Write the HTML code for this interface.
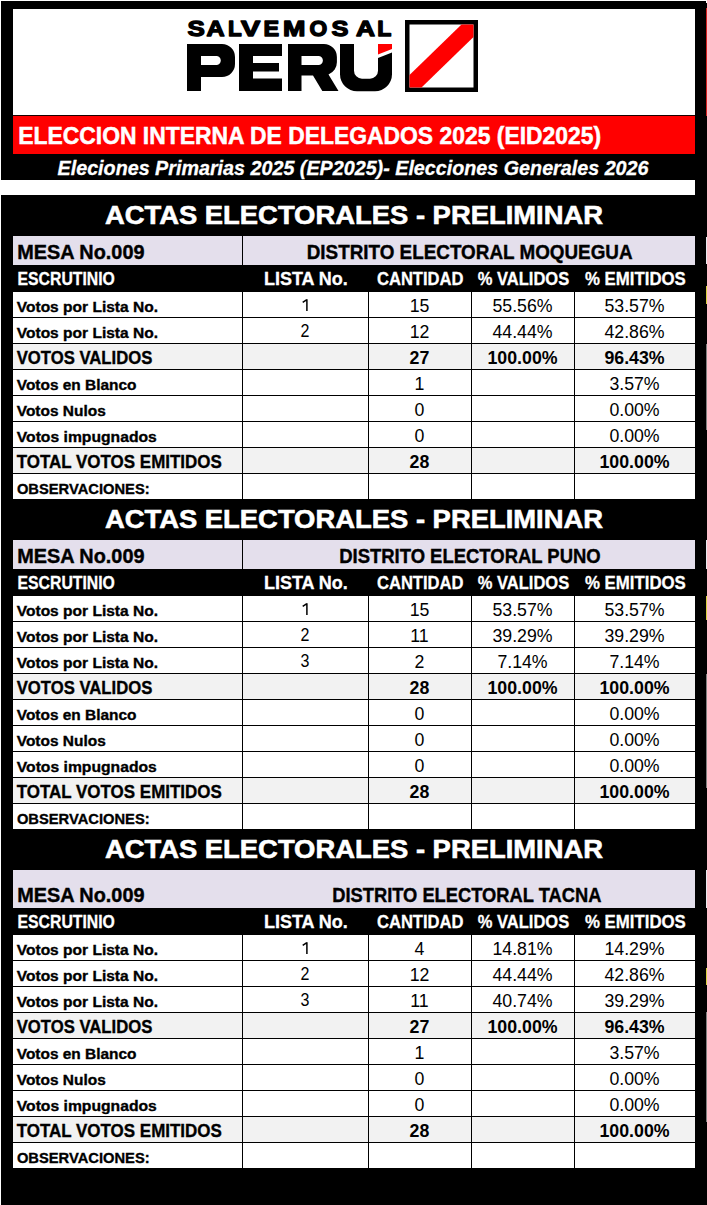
<!DOCTYPE html>
<html><head><meta charset="utf-8"><title>Actas Electorales</title>
<style>html,body{margin:0;padding:0;background:#000;width:707px;height:1205px;overflow:hidden}svg{display:block;font-family:"Liberation Sans",sans-serif}text{font-family:"Liberation Sans",sans-serif}</style>
</head><body>
<svg width="707" height="1205" viewBox="0 0 707 1205"><rect x="0" y="0" width="707" height="1205" fill="#000"/>
<rect x="0" y="0" width="1" height="1205" fill="#fff"/>
<rect x="0" y="0" width="707" height="1" fill="#fff"/>
<rect x="13" y="9" width="682" height="106" fill="#fff"/>
<rect x="13" y="115" width="682" height="1" fill="#1a0000"/>
<rect x="706" y="8" width="1" height="108" fill="#d42020"/>
<rect x="706" y="0" width="1" height="3" fill="#fff"/>
<rect x="706" y="237" width="1" height="27" fill="#e8e8ee"/>
<rect x="706" y="286" width="1" height="18" fill="#d8d040"/>
<rect x="706" y="344" width="1" height="86" fill="#808080"/>
<rect x="706" y="540" width="1" height="29" fill="#e8e8ee"/>
<rect x="706" y="596" width="1" height="24" fill="#d8d040"/>
<rect x="706" y="674" width="1" height="114" fill="#808080"/>
<rect x="706" y="870" width="1" height="38" fill="#e8e8ee"/>
<rect x="706" y="968" width="1" height="17" fill="#d8d040"/>
<rect x="706" y="1012" width="1" height="110" fill="#808080"/>
<rect x="13" y="116" width="682" height="38" fill="#ff0000"/>
<rect x="0" y="180" width="695" height="15" fill="#fff"/>
<rect x="407.25" y="22.25" width="68.5" height="67.5" fill="#fff" stroke="#000" stroke-width="4.5"/>
<polygon points="461.5,24.5 473.5,24.5 473.5,37 421.5,87.5 409.5,87.5 409.5,75" fill="#ff0000"/>
<path fill="#000" fill-rule="evenodd" d="M187,44 H222 A13,13 0 0 1 235,57 V64 A13,13 0 0 1 222,77 H201 V91 H187 Z M201,56 V65 H216.3 A4.5,4.5 0 0 0 216.3,56 Z M239,44 H282 V56 H253 V63 H279 V71.5 H253 V78.5 H282 V91 H239 Z M288,44 H323.9 A13,13 0 0 1 336.9,57 V62 A13,13 0 0 1 328.5,74.5 L338.5,91 H322.3 L313,75.5 H301.5 V91 H288 Z M301.5,56 V65 H318.4 A4.5,4.5 0 0 0 318.4,56 Z M340,44 H354 V70.7 A8,8 0 0 0 362,78.7 H370 A8,8 0 0 0 378,70.7 V58 L392,52.5 V74.3 A17,17 0 0 1 375,91.3 H357 A17,17 0 0 1 340,74.3 Z"/>
<polygon points="378,44 392,44 392,49 378,54.5" fill="#ff0000"/>
<g font-family="Liberation Sans">
<text stroke="#000" stroke-width="1.4" stroke-linejoin="round" x="187.50" y="36.30" font-size="22.82" font-weight="bold" font-style="normal" textLength="17.30" lengthAdjust="spacingAndGlyphs" fill="#000">S</text>
<text stroke="#000" stroke-width="1.4" stroke-linejoin="round" x="206.60" y="36.30" font-size="22.82" font-weight="bold" font-style="normal" textLength="18.10" lengthAdjust="spacingAndGlyphs" fill="#000">A</text>
<text stroke="#000" stroke-width="1.4" stroke-linejoin="round" x="227.90" y="36.30" font-size="22.82" font-weight="bold" font-style="normal" textLength="13.70" lengthAdjust="spacingAndGlyphs" fill="#000">L</text>
<text stroke="#000" stroke-width="1.4" stroke-linejoin="round" x="240.90" y="36.30" font-size="22.82" font-weight="bold" font-style="normal" textLength="19.20" lengthAdjust="spacingAndGlyphs" fill="#000">V</text>
<text stroke="#000" stroke-width="1.4" stroke-linejoin="round" x="263.60" y="36.30" font-size="22.82" font-weight="bold" font-style="normal" textLength="15.60" lengthAdjust="spacingAndGlyphs" fill="#000">E</text>
<text stroke="#000" stroke-width="1.4" stroke-linejoin="round" x="283.10" y="36.30" font-size="22.82" font-weight="bold" font-style="normal" textLength="22.40" lengthAdjust="spacingAndGlyphs" fill="#000">M</text>
<text stroke="#000" stroke-width="1.4" stroke-linejoin="round" x="309.40" y="36.30" font-size="22.82" font-weight="bold" font-style="normal" textLength="17.70" lengthAdjust="spacingAndGlyphs" fill="#000">O</text>
<text stroke="#000" stroke-width="1.4" stroke-linejoin="round" x="331.50" y="36.30" font-size="22.82" font-weight="bold" font-style="normal" textLength="16.90" lengthAdjust="spacingAndGlyphs" fill="#000">S</text>
<text stroke="#000" stroke-width="1.4" stroke-linejoin="round" x="356.00" y="36.30" font-size="22.82" font-weight="bold" font-style="normal" textLength="19.00" lengthAdjust="spacingAndGlyphs" fill="#000">A</text>
<text stroke="#000" stroke-width="1.4" stroke-linejoin="round" x="377.20" y="36.30" font-size="22.82" font-weight="bold" font-style="normal" textLength="14.10" lengthAdjust="spacingAndGlyphs" fill="#000">L</text>
<text x="18.25" y="143.85" font-size="24.27" font-weight="bold" font-style="normal" textLength="582.80" lengthAdjust="spacingAndGlyphs" fill="#fff" stroke="#fff" stroke-width="0.5">ELECCION INTERNA DE DELEGADOS 2025 (EID2025)</text>
<text x="57.55" y="174.85" font-size="20.49" font-weight="bold" font-style="italic" textLength="590.98" lengthAdjust="spacingAndGlyphs" fill="#fff" stroke="#fff" stroke-width="0.3">Eleciones Primarias 2025 (EP2025)- Elecciones Generales 2026</text>
<text x="104.90" y="224.30" font-size="26.45" font-weight="bold" font-style="normal" textLength="498.19" lengthAdjust="spacingAndGlyphs" fill="#fff" stroke="#fff" stroke-width="0.6">ACTAS ELECTORALES - PRELIMINAR</text>
<rect x="13" y="236" width="682" height="29" fill="#e4dfec"/>
<rect x="242" y="236" width="1" height="29" fill="#000"/>
<text x="17.20" y="258.70" font-size="20.20" font-weight="bold" font-style="normal" textLength="127.30" lengthAdjust="spacingAndGlyphs" fill="#000" stroke="#000" stroke-width="0.4">MESA No.009</text>
<text x="306.70" y="258.70" font-size="20.49" font-weight="bold" font-style="normal" textLength="325.90" lengthAdjust="spacingAndGlyphs" fill="#000" stroke="#000" stroke-width="0.4">DISTRITO ELECTORAL MOQUEGUA</text>
<text x="17.55" y="285.35" font-size="17.44" font-weight="bold" font-style="normal" textLength="97.30" lengthAdjust="spacingAndGlyphs" fill="#fff" stroke="#fff" stroke-width="0.3">ESCRUTINIO</text>
<text x="263.95" y="284.85" font-size="17.59" font-weight="bold" font-style="normal" textLength="83.90" lengthAdjust="spacingAndGlyphs" fill="#fff" stroke="#fff" stroke-width="0.3">LISTA No.</text>
<text x="376.95" y="285.35" font-size="17.44" font-weight="bold" font-style="normal" textLength="86.60" lengthAdjust="spacingAndGlyphs" fill="#fff" stroke="#fff" stroke-width="0.3">CANTIDAD</text>
<text x="477.75" y="285.35" font-size="17.44" font-weight="bold" font-style="normal" textLength="91.39" lengthAdjust="spacingAndGlyphs" fill="#fff" stroke="#fff" stroke-width="0.3">% VALIDOS</text>
<text x="584.95" y="285.35" font-size="17.44" font-weight="bold" font-style="normal" textLength="100.89" lengthAdjust="spacingAndGlyphs" fill="#fff" stroke="#fff" stroke-width="0.3">% EMITIDOS</text>
<rect x="13" y="292" width="682" height="25" fill="#fff"/>
<rect x="13" y="317" width="682" height="1" fill="#000"/>
<rect x="242" y="292" width="1" height="25" fill="#000"/>
<rect x="368" y="292" width="1" height="25" fill="#000"/>
<rect x="471" y="292" width="1" height="25" fill="#000"/>
<rect x="574" y="292" width="1" height="25" fill="#000"/>
<text x="16.78" y="311.52" font-size="14.75" font-weight="bold" font-style="normal" textLength="141.25" lengthAdjust="spacingAndGlyphs" fill="#000" stroke="#000" stroke-width="0.35">Votos por Lista No.</text>
<path d="M306.9,299.2 V311.0 M306.9,299.6 L302.7,302.4" stroke="#000" stroke-width="1.5" fill="none"/>
<text x="409.65" y="311.80" font-size="18.46" font-weight="normal" font-style="normal" textLength="19.71" lengthAdjust="spacingAndGlyphs" fill="#000">15</text>
<text x="492.45" y="311.80" font-size="18.46" font-weight="normal" font-style="normal" textLength="60.10" lengthAdjust="spacingAndGlyphs" fill="#000">55.56%</text>
<text x="604.45" y="311.80" font-size="18.46" font-weight="normal" font-style="normal" textLength="60.10" lengthAdjust="spacingAndGlyphs" fill="#000">53.57%</text>
<rect x="13" y="318" width="682" height="25" fill="#fff"/>
<rect x="13" y="343" width="682" height="1" fill="#000"/>
<rect x="242" y="318" width="1" height="25" fill="#000"/>
<rect x="368" y="318" width="1" height="25" fill="#000"/>
<rect x="471" y="318" width="1" height="25" fill="#000"/>
<rect x="574" y="318" width="1" height="25" fill="#000"/>
<text x="16.78" y="337.52" font-size="14.75" font-weight="bold" font-style="normal" textLength="141.25" lengthAdjust="spacingAndGlyphs" fill="#000" stroke="#000" stroke-width="0.35">Votos por Lista No.</text>
<text x="300.54" y="337.00" font-size="17.44" font-weight="normal" font-style="normal" textLength="8.92" lengthAdjust="spacingAndGlyphs" fill="#000">2</text>
<text x="409.65" y="337.80" font-size="18.46" font-weight="normal" font-style="normal" textLength="19.71" lengthAdjust="spacingAndGlyphs" fill="#000">12</text>
<text x="492.45" y="337.80" font-size="18.46" font-weight="normal" font-style="normal" textLength="60.10" lengthAdjust="spacingAndGlyphs" fill="#000">44.44%</text>
<text x="604.45" y="337.80" font-size="18.46" font-weight="normal" font-style="normal" textLength="60.10" lengthAdjust="spacingAndGlyphs" fill="#000">42.86%</text>
<rect x="13" y="344" width="682" height="25" fill="#f2f2f2"/>
<rect x="13" y="369" width="682" height="1" fill="#000"/>
<rect x="242" y="344" width="1" height="25" fill="#000"/>
<rect x="368" y="344" width="1" height="25" fill="#000"/>
<rect x="471" y="344" width="1" height="25" fill="#000"/>
<rect x="574" y="344" width="1" height="25" fill="#000"/>
<text x="16.68" y="364.02" font-size="17.95" font-weight="bold" font-style="normal" textLength="135.65" lengthAdjust="spacingAndGlyphs" fill="#000" stroke="#000" stroke-width="0.35">VOTOS VALIDOS</text>
<text x="409.62" y="363.80" font-size="18.90" font-weight="bold" font-style="normal" textLength="19.76" lengthAdjust="spacingAndGlyphs" fill="#000">27</text>
<text x="487.44" y="363.80" font-size="18.90" font-weight="bold" font-style="normal" textLength="70.12" lengthAdjust="spacingAndGlyphs" fill="#000">100.00%</text>
<text x="604.38" y="363.80" font-size="18.90" font-weight="bold" font-style="normal" textLength="60.24" lengthAdjust="spacingAndGlyphs" fill="#000">96.43%</text>
<rect x="13" y="370" width="682" height="25" fill="#fff"/>
<rect x="13" y="395" width="682" height="1" fill="#000"/>
<rect x="242" y="370" width="1" height="25" fill="#000"/>
<rect x="368" y="370" width="1" height="25" fill="#000"/>
<rect x="471" y="370" width="1" height="25" fill="#000"/>
<rect x="574" y="370" width="1" height="25" fill="#000"/>
<text x="16.78" y="389.52" font-size="14.75" font-weight="bold" font-style="normal" textLength="119.75" lengthAdjust="spacingAndGlyphs" fill="#000" stroke="#000" stroke-width="0.35">Votos en Blanco</text>
<text x="414.57" y="389.80" font-size="18.46" font-weight="normal" font-style="normal" textLength="9.86" lengthAdjust="spacingAndGlyphs" fill="#000">1</text>
<text x="609.38" y="389.80" font-size="18.46" font-weight="normal" font-style="normal" textLength="50.25" lengthAdjust="spacingAndGlyphs" fill="#000">3.57%</text>
<rect x="13" y="396" width="682" height="25" fill="#fff"/>
<rect x="13" y="421" width="682" height="1" fill="#000"/>
<rect x="242" y="396" width="1" height="25" fill="#000"/>
<rect x="368" y="396" width="1" height="25" fill="#000"/>
<rect x="471" y="396" width="1" height="25" fill="#000"/>
<rect x="574" y="396" width="1" height="25" fill="#000"/>
<text x="16.78" y="415.52" font-size="14.75" font-weight="bold" font-style="normal" textLength="89.05" lengthAdjust="spacingAndGlyphs" fill="#000" stroke="#000" stroke-width="0.35">Votos Nulos</text>
<text x="414.57" y="415.80" font-size="18.46" font-weight="normal" font-style="normal" textLength="9.86" lengthAdjust="spacingAndGlyphs" fill="#000">0</text>
<text x="609.38" y="415.80" font-size="18.46" font-weight="normal" font-style="normal" textLength="50.25" lengthAdjust="spacingAndGlyphs" fill="#000">0.00%</text>
<rect x="13" y="422" width="682" height="25" fill="#fff"/>
<rect x="13" y="447" width="682" height="1" fill="#000"/>
<rect x="242" y="422" width="1" height="25" fill="#000"/>
<rect x="368" y="422" width="1" height="25" fill="#000"/>
<rect x="471" y="422" width="1" height="25" fill="#000"/>
<rect x="574" y="422" width="1" height="25" fill="#000"/>
<text x="16.78" y="441.52" font-size="14.75" font-weight="bold" font-style="normal" textLength="140.05" lengthAdjust="spacingAndGlyphs" fill="#000" stroke="#000" stroke-width="0.35">Votos impugnados</text>
<text x="414.57" y="441.80" font-size="18.46" font-weight="normal" font-style="normal" textLength="9.86" lengthAdjust="spacingAndGlyphs" fill="#000">0</text>
<text x="609.38" y="441.80" font-size="18.46" font-weight="normal" font-style="normal" textLength="50.25" lengthAdjust="spacingAndGlyphs" fill="#000">0.00%</text>
<rect x="13" y="448" width="682" height="25" fill="#f2f2f2"/>
<rect x="13" y="473" width="682" height="1" fill="#000"/>
<rect x="242" y="448" width="1" height="25" fill="#000"/>
<rect x="368" y="448" width="1" height="25" fill="#000"/>
<rect x="471" y="448" width="1" height="25" fill="#000"/>
<rect x="574" y="448" width="1" height="25" fill="#000"/>
<text x="16.68" y="468.02" font-size="17.95" font-weight="bold" font-style="normal" textLength="205.15" lengthAdjust="spacingAndGlyphs" fill="#000" stroke="#000" stroke-width="0.35">TOTAL VOTOS EMITIDOS</text>
<text x="409.62" y="467.80" font-size="18.90" font-weight="bold" font-style="normal" textLength="19.76" lengthAdjust="spacingAndGlyphs" fill="#000">28</text>
<text x="599.44" y="467.80" font-size="18.90" font-weight="bold" font-style="normal" textLength="70.12" lengthAdjust="spacingAndGlyphs" fill="#000">100.00%</text>
<rect x="13" y="474" width="682" height="25" fill="#fff"/>
<rect x="242" y="474" width="1" height="25" fill="#000"/>
<rect x="368" y="474" width="1" height="25" fill="#000"/>
<rect x="471" y="474" width="1" height="25" fill="#000"/>
<rect x="574" y="474" width="1" height="25" fill="#000"/>
<text x="16.88" y="493.82" font-size="15.19" font-weight="bold" font-style="normal" textLength="132.75" lengthAdjust="spacingAndGlyphs" fill="#000" stroke="#000" stroke-width="0.35">OBSERVACIONES:</text>
<text x="104.90" y="528.30" font-size="26.45" font-weight="bold" font-style="normal" textLength="498.19" lengthAdjust="spacingAndGlyphs" fill="#fff" stroke="#fff" stroke-width="0.6">ACTAS ELECTORALES - PRELIMINAR</text>
<rect x="13" y="540" width="682" height="29" fill="#e4dfec"/>
<rect x="242" y="540" width="1" height="29" fill="#000"/>
<text x="17.20" y="562.70" font-size="20.20" font-weight="bold" font-style="normal" textLength="127.30" lengthAdjust="spacingAndGlyphs" fill="#000" stroke="#000" stroke-width="0.4">MESA No.009</text>
<text x="339.20" y="562.70" font-size="20.49" font-weight="bold" font-style="normal" textLength="261.50" lengthAdjust="spacingAndGlyphs" fill="#000" stroke="#000" stroke-width="0.4">DISTRITO ELECTORAL PUNO</text>
<text x="17.55" y="589.35" font-size="17.44" font-weight="bold" font-style="normal" textLength="97.30" lengthAdjust="spacingAndGlyphs" fill="#fff" stroke="#fff" stroke-width="0.3">ESCRUTINIO</text>
<text x="263.95" y="588.85" font-size="17.59" font-weight="bold" font-style="normal" textLength="83.90" lengthAdjust="spacingAndGlyphs" fill="#fff" stroke="#fff" stroke-width="0.3">LISTA No.</text>
<text x="376.95" y="589.35" font-size="17.44" font-weight="bold" font-style="normal" textLength="86.60" lengthAdjust="spacingAndGlyphs" fill="#fff" stroke="#fff" stroke-width="0.3">CANTIDAD</text>
<text x="477.75" y="589.35" font-size="17.44" font-weight="bold" font-style="normal" textLength="91.39" lengthAdjust="spacingAndGlyphs" fill="#fff" stroke="#fff" stroke-width="0.3">% VALIDOS</text>
<text x="584.95" y="589.35" font-size="17.44" font-weight="bold" font-style="normal" textLength="100.89" lengthAdjust="spacingAndGlyphs" fill="#fff" stroke="#fff" stroke-width="0.3">% EMITIDOS</text>
<rect x="13" y="596" width="682" height="25" fill="#fff"/>
<rect x="13" y="621" width="682" height="1" fill="#000"/>
<rect x="242" y="596" width="1" height="25" fill="#000"/>
<rect x="368" y="596" width="1" height="25" fill="#000"/>
<rect x="471" y="596" width="1" height="25" fill="#000"/>
<rect x="574" y="596" width="1" height="25" fill="#000"/>
<text x="16.78" y="615.52" font-size="14.75" font-weight="bold" font-style="normal" textLength="141.25" lengthAdjust="spacingAndGlyphs" fill="#000" stroke="#000" stroke-width="0.35">Votos por Lista No.</text>
<path d="M306.9,603.2 V615.0 M306.9,603.6 L302.7,606.4" stroke="#000" stroke-width="1.5" fill="none"/>
<text x="409.65" y="615.80" font-size="18.46" font-weight="normal" font-style="normal" textLength="19.71" lengthAdjust="spacingAndGlyphs" fill="#000">15</text>
<text x="492.45" y="615.80" font-size="18.46" font-weight="normal" font-style="normal" textLength="60.10" lengthAdjust="spacingAndGlyphs" fill="#000">53.57%</text>
<text x="604.45" y="615.80" font-size="18.46" font-weight="normal" font-style="normal" textLength="60.10" lengthAdjust="spacingAndGlyphs" fill="#000">53.57%</text>
<rect x="13" y="622" width="682" height="25" fill="#fff"/>
<rect x="13" y="647" width="682" height="1" fill="#000"/>
<rect x="242" y="622" width="1" height="25" fill="#000"/>
<rect x="368" y="622" width="1" height="25" fill="#000"/>
<rect x="471" y="622" width="1" height="25" fill="#000"/>
<rect x="574" y="622" width="1" height="25" fill="#000"/>
<text x="16.78" y="641.52" font-size="14.75" font-weight="bold" font-style="normal" textLength="141.25" lengthAdjust="spacingAndGlyphs" fill="#000" stroke="#000" stroke-width="0.35">Votos por Lista No.</text>
<text x="300.54" y="641.00" font-size="17.44" font-weight="normal" font-style="normal" textLength="8.92" lengthAdjust="spacingAndGlyphs" fill="#000">2</text>
<text x="410.30" y="641.80" font-size="18.46" font-weight="normal" font-style="normal" textLength="18.40" lengthAdjust="spacingAndGlyphs" fill="#000">11</text>
<text x="492.45" y="641.80" font-size="18.46" font-weight="normal" font-style="normal" textLength="60.10" lengthAdjust="spacingAndGlyphs" fill="#000">39.29%</text>
<text x="604.45" y="641.80" font-size="18.46" font-weight="normal" font-style="normal" textLength="60.10" lengthAdjust="spacingAndGlyphs" fill="#000">39.29%</text>
<rect x="13" y="648" width="682" height="25" fill="#fff"/>
<rect x="13" y="673" width="682" height="1" fill="#000"/>
<rect x="242" y="648" width="1" height="25" fill="#000"/>
<rect x="368" y="648" width="1" height="25" fill="#000"/>
<rect x="471" y="648" width="1" height="25" fill="#000"/>
<rect x="574" y="648" width="1" height="25" fill="#000"/>
<text x="16.78" y="667.52" font-size="14.75" font-weight="bold" font-style="normal" textLength="141.25" lengthAdjust="spacingAndGlyphs" fill="#000" stroke="#000" stroke-width="0.35">Votos por Lista No.</text>
<text x="300.54" y="667.00" font-size="17.44" font-weight="normal" font-style="normal" textLength="8.92" lengthAdjust="spacingAndGlyphs" fill="#000">3</text>
<text x="414.57" y="667.80" font-size="18.46" font-weight="normal" font-style="normal" textLength="9.86" lengthAdjust="spacingAndGlyphs" fill="#000">2</text>
<text x="497.38" y="667.80" font-size="18.46" font-weight="normal" font-style="normal" textLength="50.25" lengthAdjust="spacingAndGlyphs" fill="#000">7.14%</text>
<text x="609.38" y="667.80" font-size="18.46" font-weight="normal" font-style="normal" textLength="50.25" lengthAdjust="spacingAndGlyphs" fill="#000">7.14%</text>
<rect x="13" y="674" width="682" height="25" fill="#f2f2f2"/>
<rect x="13" y="699" width="682" height="1" fill="#000"/>
<rect x="242" y="674" width="1" height="25" fill="#000"/>
<rect x="368" y="674" width="1" height="25" fill="#000"/>
<rect x="471" y="674" width="1" height="25" fill="#000"/>
<rect x="574" y="674" width="1" height="25" fill="#000"/>
<text x="16.68" y="694.02" font-size="17.95" font-weight="bold" font-style="normal" textLength="135.65" lengthAdjust="spacingAndGlyphs" fill="#000" stroke="#000" stroke-width="0.35">VOTOS VALIDOS</text>
<text x="409.62" y="693.80" font-size="18.90" font-weight="bold" font-style="normal" textLength="19.76" lengthAdjust="spacingAndGlyphs" fill="#000">28</text>
<text x="487.44" y="693.80" font-size="18.90" font-weight="bold" font-style="normal" textLength="70.12" lengthAdjust="spacingAndGlyphs" fill="#000">100.00%</text>
<text x="599.44" y="693.80" font-size="18.90" font-weight="bold" font-style="normal" textLength="70.12" lengthAdjust="spacingAndGlyphs" fill="#000">100.00%</text>
<rect x="13" y="700" width="682" height="25" fill="#fff"/>
<rect x="13" y="725" width="682" height="1" fill="#000"/>
<rect x="242" y="700" width="1" height="25" fill="#000"/>
<rect x="368" y="700" width="1" height="25" fill="#000"/>
<rect x="471" y="700" width="1" height="25" fill="#000"/>
<rect x="574" y="700" width="1" height="25" fill="#000"/>
<text x="16.78" y="719.52" font-size="14.75" font-weight="bold" font-style="normal" textLength="119.75" lengthAdjust="spacingAndGlyphs" fill="#000" stroke="#000" stroke-width="0.35">Votos en Blanco</text>
<text x="414.57" y="719.80" font-size="18.46" font-weight="normal" font-style="normal" textLength="9.86" lengthAdjust="spacingAndGlyphs" fill="#000">0</text>
<text x="609.38" y="719.80" font-size="18.46" font-weight="normal" font-style="normal" textLength="50.25" lengthAdjust="spacingAndGlyphs" fill="#000">0.00%</text>
<rect x="13" y="726" width="682" height="25" fill="#fff"/>
<rect x="13" y="751" width="682" height="1" fill="#000"/>
<rect x="242" y="726" width="1" height="25" fill="#000"/>
<rect x="368" y="726" width="1" height="25" fill="#000"/>
<rect x="471" y="726" width="1" height="25" fill="#000"/>
<rect x="574" y="726" width="1" height="25" fill="#000"/>
<text x="16.78" y="745.52" font-size="14.75" font-weight="bold" font-style="normal" textLength="89.05" lengthAdjust="spacingAndGlyphs" fill="#000" stroke="#000" stroke-width="0.35">Votos Nulos</text>
<text x="414.57" y="745.80" font-size="18.46" font-weight="normal" font-style="normal" textLength="9.86" lengthAdjust="spacingAndGlyphs" fill="#000">0</text>
<text x="609.38" y="745.80" font-size="18.46" font-weight="normal" font-style="normal" textLength="50.25" lengthAdjust="spacingAndGlyphs" fill="#000">0.00%</text>
<rect x="13" y="752" width="682" height="25" fill="#fff"/>
<rect x="13" y="777" width="682" height="1" fill="#000"/>
<rect x="242" y="752" width="1" height="25" fill="#000"/>
<rect x="368" y="752" width="1" height="25" fill="#000"/>
<rect x="471" y="752" width="1" height="25" fill="#000"/>
<rect x="574" y="752" width="1" height="25" fill="#000"/>
<text x="16.78" y="771.52" font-size="14.75" font-weight="bold" font-style="normal" textLength="140.05" lengthAdjust="spacingAndGlyphs" fill="#000" stroke="#000" stroke-width="0.35">Votos impugnados</text>
<text x="414.57" y="771.80" font-size="18.46" font-weight="normal" font-style="normal" textLength="9.86" lengthAdjust="spacingAndGlyphs" fill="#000">0</text>
<text x="609.38" y="771.80" font-size="18.46" font-weight="normal" font-style="normal" textLength="50.25" lengthAdjust="spacingAndGlyphs" fill="#000">0.00%</text>
<rect x="13" y="778" width="682" height="25" fill="#f2f2f2"/>
<rect x="13" y="803" width="682" height="1" fill="#000"/>
<rect x="242" y="778" width="1" height="25" fill="#000"/>
<rect x="368" y="778" width="1" height="25" fill="#000"/>
<rect x="471" y="778" width="1" height="25" fill="#000"/>
<rect x="574" y="778" width="1" height="25" fill="#000"/>
<text x="16.68" y="798.02" font-size="17.95" font-weight="bold" font-style="normal" textLength="205.15" lengthAdjust="spacingAndGlyphs" fill="#000" stroke="#000" stroke-width="0.35">TOTAL VOTOS EMITIDOS</text>
<text x="409.62" y="797.80" font-size="18.90" font-weight="bold" font-style="normal" textLength="19.76" lengthAdjust="spacingAndGlyphs" fill="#000">28</text>
<text x="599.44" y="797.80" font-size="18.90" font-weight="bold" font-style="normal" textLength="70.12" lengthAdjust="spacingAndGlyphs" fill="#000">100.00%</text>
<rect x="13" y="804" width="682" height="25" fill="#fff"/>
<rect x="242" y="804" width="1" height="25" fill="#000"/>
<rect x="368" y="804" width="1" height="25" fill="#000"/>
<rect x="471" y="804" width="1" height="25" fill="#000"/>
<rect x="574" y="804" width="1" height="25" fill="#000"/>
<text x="16.88" y="823.83" font-size="15.19" font-weight="bold" font-style="normal" textLength="132.75" lengthAdjust="spacingAndGlyphs" fill="#000" stroke="#000" stroke-width="0.35">OBSERVACIONES:</text>
<text x="104.90" y="858.30" font-size="26.45" font-weight="bold" font-style="normal" textLength="498.19" lengthAdjust="spacingAndGlyphs" fill="#fff" stroke="#fff" stroke-width="0.6">ACTAS ELECTORALES - PRELIMINAR</text>
<rect x="13" y="870" width="682" height="38" fill="#e4dfec"/>
<text x="17.20" y="901.70" font-size="20.20" font-weight="bold" font-style="normal" textLength="127.30" lengthAdjust="spacingAndGlyphs" fill="#000" stroke="#000" stroke-width="0.4">MESA No.009</text>
<text x="332.20" y="901.70" font-size="20.49" font-weight="bold" font-style="normal" textLength="269.30" lengthAdjust="spacingAndGlyphs" fill="#000" stroke="#000" stroke-width="0.4">DISTRITO ELECTORAL TACNA</text>
<text x="17.55" y="928.35" font-size="17.44" font-weight="bold" font-style="normal" textLength="97.30" lengthAdjust="spacingAndGlyphs" fill="#fff" stroke="#fff" stroke-width="0.3">ESCRUTINIO</text>
<text x="263.95" y="927.85" font-size="17.59" font-weight="bold" font-style="normal" textLength="83.90" lengthAdjust="spacingAndGlyphs" fill="#fff" stroke="#fff" stroke-width="0.3">LISTA No.</text>
<text x="376.95" y="928.35" font-size="17.44" font-weight="bold" font-style="normal" textLength="86.60" lengthAdjust="spacingAndGlyphs" fill="#fff" stroke="#fff" stroke-width="0.3">CANTIDAD</text>
<text x="477.75" y="928.35" font-size="17.44" font-weight="bold" font-style="normal" textLength="91.39" lengthAdjust="spacingAndGlyphs" fill="#fff" stroke="#fff" stroke-width="0.3">% VALIDOS</text>
<text x="584.95" y="928.35" font-size="17.44" font-weight="bold" font-style="normal" textLength="100.89" lengthAdjust="spacingAndGlyphs" fill="#fff" stroke="#fff" stroke-width="0.3">% EMITIDOS</text>
<rect x="13" y="935" width="682" height="25" fill="#fff"/>
<rect x="13" y="960" width="682" height="1" fill="#000"/>
<rect x="242" y="935" width="1" height="25" fill="#000"/>
<rect x="368" y="935" width="1" height="25" fill="#000"/>
<rect x="471" y="935" width="1" height="25" fill="#000"/>
<rect x="574" y="935" width="1" height="25" fill="#000"/>
<text x="16.78" y="954.52" font-size="14.75" font-weight="bold" font-style="normal" textLength="141.25" lengthAdjust="spacingAndGlyphs" fill="#000" stroke="#000" stroke-width="0.35">Votos por Lista No.</text>
<path d="M306.9,942.2 V954.0 M306.9,942.6 L302.7,945.4" stroke="#000" stroke-width="1.5" fill="none"/>
<text x="414.57" y="954.80" font-size="18.46" font-weight="normal" font-style="normal" textLength="9.86" lengthAdjust="spacingAndGlyphs" fill="#000">4</text>
<text x="492.45" y="954.80" font-size="18.46" font-weight="normal" font-style="normal" textLength="60.10" lengthAdjust="spacingAndGlyphs" fill="#000">14.81%</text>
<text x="604.45" y="954.80" font-size="18.46" font-weight="normal" font-style="normal" textLength="60.10" lengthAdjust="spacingAndGlyphs" fill="#000">14.29%</text>
<rect x="13" y="961" width="682" height="25" fill="#fff"/>
<rect x="13" y="986" width="682" height="1" fill="#000"/>
<rect x="242" y="961" width="1" height="25" fill="#000"/>
<rect x="368" y="961" width="1" height="25" fill="#000"/>
<rect x="471" y="961" width="1" height="25" fill="#000"/>
<rect x="574" y="961" width="1" height="25" fill="#000"/>
<text x="16.78" y="980.52" font-size="14.75" font-weight="bold" font-style="normal" textLength="141.25" lengthAdjust="spacingAndGlyphs" fill="#000" stroke="#000" stroke-width="0.35">Votos por Lista No.</text>
<text x="300.54" y="980.00" font-size="17.44" font-weight="normal" font-style="normal" textLength="8.92" lengthAdjust="spacingAndGlyphs" fill="#000">2</text>
<text x="409.65" y="980.80" font-size="18.46" font-weight="normal" font-style="normal" textLength="19.71" lengthAdjust="spacingAndGlyphs" fill="#000">12</text>
<text x="492.45" y="980.80" font-size="18.46" font-weight="normal" font-style="normal" textLength="60.10" lengthAdjust="spacingAndGlyphs" fill="#000">44.44%</text>
<text x="604.45" y="980.80" font-size="18.46" font-weight="normal" font-style="normal" textLength="60.10" lengthAdjust="spacingAndGlyphs" fill="#000">42.86%</text>
<rect x="13" y="987" width="682" height="25" fill="#fff"/>
<rect x="13" y="1012" width="682" height="1" fill="#000"/>
<rect x="242" y="987" width="1" height="25" fill="#000"/>
<rect x="368" y="987" width="1" height="25" fill="#000"/>
<rect x="471" y="987" width="1" height="25" fill="#000"/>
<rect x="574" y="987" width="1" height="25" fill="#000"/>
<text x="16.78" y="1006.52" font-size="14.75" font-weight="bold" font-style="normal" textLength="141.25" lengthAdjust="spacingAndGlyphs" fill="#000" stroke="#000" stroke-width="0.35">Votos por Lista No.</text>
<text x="300.54" y="1006.00" font-size="17.44" font-weight="normal" font-style="normal" textLength="8.92" lengthAdjust="spacingAndGlyphs" fill="#000">3</text>
<text x="410.30" y="1006.80" font-size="18.46" font-weight="normal" font-style="normal" textLength="18.40" lengthAdjust="spacingAndGlyphs" fill="#000">11</text>
<text x="492.45" y="1006.80" font-size="18.46" font-weight="normal" font-style="normal" textLength="60.10" lengthAdjust="spacingAndGlyphs" fill="#000">40.74%</text>
<text x="604.45" y="1006.80" font-size="18.46" font-weight="normal" font-style="normal" textLength="60.10" lengthAdjust="spacingAndGlyphs" fill="#000">39.29%</text>
<rect x="13" y="1013" width="682" height="25" fill="#f2f2f2"/>
<rect x="13" y="1038" width="682" height="1" fill="#000"/>
<rect x="242" y="1013" width="1" height="25" fill="#000"/>
<rect x="368" y="1013" width="1" height="25" fill="#000"/>
<rect x="471" y="1013" width="1" height="25" fill="#000"/>
<rect x="574" y="1013" width="1" height="25" fill="#000"/>
<text x="16.68" y="1033.03" font-size="17.95" font-weight="bold" font-style="normal" textLength="135.65" lengthAdjust="spacingAndGlyphs" fill="#000" stroke="#000" stroke-width="0.35">VOTOS VALIDOS</text>
<text x="409.62" y="1032.80" font-size="18.90" font-weight="bold" font-style="normal" textLength="19.76" lengthAdjust="spacingAndGlyphs" fill="#000">27</text>
<text x="487.44" y="1032.80" font-size="18.90" font-weight="bold" font-style="normal" textLength="70.12" lengthAdjust="spacingAndGlyphs" fill="#000">100.00%</text>
<text x="604.38" y="1032.80" font-size="18.90" font-weight="bold" font-style="normal" textLength="60.24" lengthAdjust="spacingAndGlyphs" fill="#000">96.43%</text>
<rect x="13" y="1039" width="682" height="25" fill="#fff"/>
<rect x="13" y="1064" width="682" height="1" fill="#000"/>
<rect x="242" y="1039" width="1" height="25" fill="#000"/>
<rect x="368" y="1039" width="1" height="25" fill="#000"/>
<rect x="471" y="1039" width="1" height="25" fill="#000"/>
<rect x="574" y="1039" width="1" height="25" fill="#000"/>
<text x="16.78" y="1058.53" font-size="14.75" font-weight="bold" font-style="normal" textLength="119.75" lengthAdjust="spacingAndGlyphs" fill="#000" stroke="#000" stroke-width="0.35">Votos en Blanco</text>
<text x="414.57" y="1058.80" font-size="18.46" font-weight="normal" font-style="normal" textLength="9.86" lengthAdjust="spacingAndGlyphs" fill="#000">1</text>
<text x="609.38" y="1058.80" font-size="18.46" font-weight="normal" font-style="normal" textLength="50.25" lengthAdjust="spacingAndGlyphs" fill="#000">3.57%</text>
<rect x="13" y="1065" width="682" height="25" fill="#fff"/>
<rect x="13" y="1090" width="682" height="1" fill="#000"/>
<rect x="242" y="1065" width="1" height="25" fill="#000"/>
<rect x="368" y="1065" width="1" height="25" fill="#000"/>
<rect x="471" y="1065" width="1" height="25" fill="#000"/>
<rect x="574" y="1065" width="1" height="25" fill="#000"/>
<text x="16.78" y="1084.53" font-size="14.75" font-weight="bold" font-style="normal" textLength="89.05" lengthAdjust="spacingAndGlyphs" fill="#000" stroke="#000" stroke-width="0.35">Votos Nulos</text>
<text x="414.57" y="1084.80" font-size="18.46" font-weight="normal" font-style="normal" textLength="9.86" lengthAdjust="spacingAndGlyphs" fill="#000">0</text>
<text x="609.38" y="1084.80" font-size="18.46" font-weight="normal" font-style="normal" textLength="50.25" lengthAdjust="spacingAndGlyphs" fill="#000">0.00%</text>
<rect x="13" y="1091" width="682" height="25" fill="#fff"/>
<rect x="13" y="1116" width="682" height="1" fill="#000"/>
<rect x="242" y="1091" width="1" height="25" fill="#000"/>
<rect x="368" y="1091" width="1" height="25" fill="#000"/>
<rect x="471" y="1091" width="1" height="25" fill="#000"/>
<rect x="574" y="1091" width="1" height="25" fill="#000"/>
<text x="16.78" y="1110.53" font-size="14.75" font-weight="bold" font-style="normal" textLength="140.05" lengthAdjust="spacingAndGlyphs" fill="#000" stroke="#000" stroke-width="0.35">Votos impugnados</text>
<text x="414.57" y="1110.80" font-size="18.46" font-weight="normal" font-style="normal" textLength="9.86" lengthAdjust="spacingAndGlyphs" fill="#000">0</text>
<text x="609.38" y="1110.80" font-size="18.46" font-weight="normal" font-style="normal" textLength="50.25" lengthAdjust="spacingAndGlyphs" fill="#000">0.00%</text>
<rect x="13" y="1117" width="682" height="25" fill="#f2f2f2"/>
<rect x="13" y="1142" width="682" height="1" fill="#000"/>
<rect x="242" y="1117" width="1" height="25" fill="#000"/>
<rect x="368" y="1117" width="1" height="25" fill="#000"/>
<rect x="471" y="1117" width="1" height="25" fill="#000"/>
<rect x="574" y="1117" width="1" height="25" fill="#000"/>
<text x="16.68" y="1137.03" font-size="17.95" font-weight="bold" font-style="normal" textLength="205.15" lengthAdjust="spacingAndGlyphs" fill="#000" stroke="#000" stroke-width="0.35">TOTAL VOTOS EMITIDOS</text>
<text x="409.62" y="1136.80" font-size="18.90" font-weight="bold" font-style="normal" textLength="19.76" lengthAdjust="spacingAndGlyphs" fill="#000">28</text>
<text x="599.44" y="1136.80" font-size="18.90" font-weight="bold" font-style="normal" textLength="70.12" lengthAdjust="spacingAndGlyphs" fill="#000">100.00%</text>
<rect x="13" y="1143" width="682" height="25" fill="#fff"/>
<rect x="242" y="1143" width="1" height="25" fill="#000"/>
<rect x="368" y="1143" width="1" height="25" fill="#000"/>
<rect x="471" y="1143" width="1" height="25" fill="#000"/>
<rect x="574" y="1143" width="1" height="25" fill="#000"/>
<text x="16.88" y="1162.83" font-size="15.19" font-weight="bold" font-style="normal" textLength="132.75" lengthAdjust="spacingAndGlyphs" fill="#000" stroke="#000" stroke-width="0.35">OBSERVACIONES:</text>
</g></svg>
</body></html>
